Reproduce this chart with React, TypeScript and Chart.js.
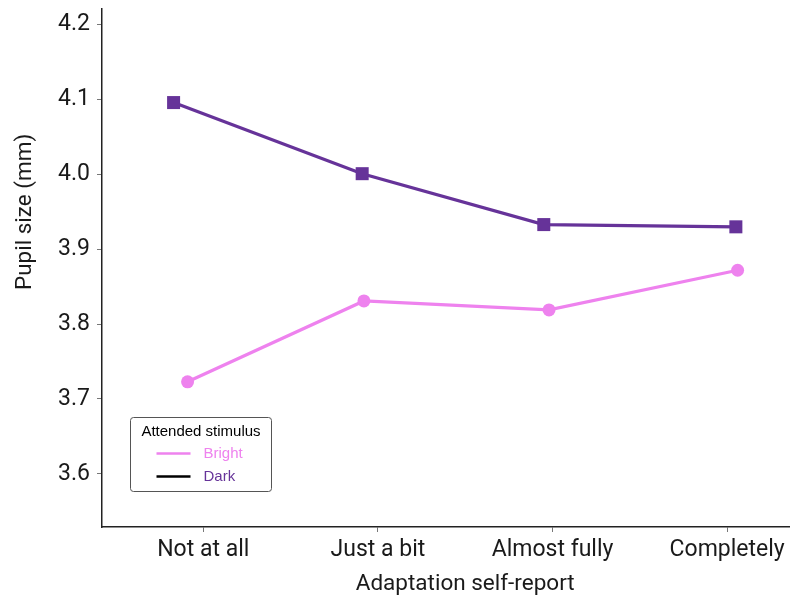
import React, { useEffect, useRef } from 'react';
import { Chart, registerables } from 'chart.js';

Chart.register(...registerables);

// ---- data ----
const categories = ['Not at all', 'Just a bit', 'Almost fully', 'Completely'];
const seriesNames = ['Bright', 'Dark'];
const brightValues = [3.723, 3.831, 3.819, 3.872];
const darkValues = [4.096, 4.001, 3.933, 3.93];
// dodged horizontal positions (in category units)
const brightX = [-0.09, 0.92, 1.98, 3.06];
const darkX = [-0.17, 0.91, 1.95, 3.05];
const xTickValues = [0, 1, 2, 3];
const yTicks = [3.6, 3.7, 3.8, 3.9, 4.0, 4.1, 4.2];
const legendTitle = 'Attended stimulus';
const xTitle = 'Adaptation self-report';
const yTitle = 'Pupil size (mm)';

const BRIGHT = '#EE82EE';
const DARK = '#663399';
const TEXT = '#1a1a1a';

const overlayPlugin = {
  id: 'overlay',
  afterDraw(chart: any) {
    const { ctx, chartArea, scales } = chart;
    const xs = scales.x;
    ctx.save();
    // axis titles
    ctx.fillStyle = TEXT;
    ctx.font = '22.5px Roboto';
    ctx.textAlign = 'center';
    ctx.textBaseline = 'alphabetic';
    ctx.fillText(xTitle, xs.getPixelForValue(1.5), chart.height - 8);
    ctx.save();
    ctx.translate(31, scales.y.getPixelForValue(3.95));
    ctx.rotate(-Math.PI / 2);
    ctx.fillText(yTitle, 0, 0);
    ctx.restore();

    // legend
    const bx = chartArea.left + 28.5;
    const by = chartArea.bottom - 109.5;
    const bw = 141;
    const bh = 74;
    ctx.beginPath();
    ctx.roundRect(bx, by, bw, bh, 3);
    ctx.fillStyle = '#ffffff';
    ctx.fill();
    ctx.strokeStyle = '#555555';
    ctx.lineWidth = 1;
    ctx.stroke();

    ctx.font = '15px "Liberation Sans", Arial, sans-serif';
    ctx.fillStyle = '#000000';
    ctx.textAlign = 'center';
    ctx.textBaseline = 'middle';
    ctx.fillText(legendTitle, bx + bw / 2, by + 14);

    const lineColors = [BRIGHT, '#000000'];
    const textColors = [BRIGHT, DARK];
    seriesNames.forEach((name, i) => {
      const yy = by + 36 + i * 23;
      ctx.beginPath();
      ctx.moveTo(bx + 26, yy);
      ctx.lineTo(bx + 60, yy);
      ctx.strokeStyle = lineColors[i];
      ctx.lineWidth = 2.5;
      ctx.stroke();
      ctx.fillStyle = textColors[i];
      ctx.textAlign = 'left';
      ctx.fillText(name, bx + 73, yy);
    });
    ctx.restore();
  },
};

export default function App() {
  const ref = useRef<HTMLCanvasElement | null>(null);

  useEffect(() => {
    document.body.style.margin = '0';
    const canvas = ref.current;
    if (!canvas) return;
    const chart = new Chart(canvas, {
      type: 'line',
      data: {
        datasets: [
          {
            label: seriesNames[0],
            data: brightValues.map((v, i) => ({ x: brightX[i], y: v })),
            borderColor: BRIGHT,
            backgroundColor: BRIGHT,
            borderWidth: 3.2,
            pointStyle: 'circle',
            pointRadius: 6.5,
            pointBorderWidth: 0,
            pointBackgroundColor: BRIGHT,
          },
          {
            label: seriesNames[1],
            data: darkValues.map((v, i) => ({ x: darkX[i], y: v })),
            borderColor: DARK,
            backgroundColor: DARK,
            borderWidth: 3.2,
            pointStyle: 'rect',
            pointRadius: 9.2,
            pointBorderWidth: 0,
            pointBackgroundColor: DARK,
          },
        ],
      },
      options: {
        animation: false,
        responsive: false,
        layout: { autoPadding: false, padding: { top: 9, left: 0, right: 0, bottom: 0 } },
        plugins: {
          legend: { display: false },
          tooltip: { enabled: false },
        },
        scales: {
          x: {
            type: 'linear',
            min: -0.58,
            max: 3.36,
            afterBuildTicks: (scale: any) => {
              scale.ticks = xTickValues.map((v) => ({ value: v }));
            },
            afterFit: (scale: any) => {
              scale.height = 71;
              scale.paddingLeft = 0;
              scale.paddingRight = 0;
            },
            ticks: {
              callback: (v: any) => categories[Math.round(Number(v))] ?? '',
              font: { family: 'Roboto', size: 23 },
              color: TEXT,
              padding: 4,
              maxRotation: 0,
              autoSkip: false,
            },
            grid: {
              drawOnChartArea: false,
              drawTicks: true,
              tickLength: 5,
              color: '#777777',
            },
            border: { display: true, color: '#222222', width: 1.5 },
          },
          y: {
            type: 'linear',
            min: 3.529,
            max: 4.221,
            afterBuildTicks: (scale: any) => {
              scale.ticks = yTicks.map((v) => ({ value: v }));
            },
            afterFit: (scale: any) => {
              scale.width = 102;
              scale.paddingTop = 0;
              scale.paddingBottom = 0;
            },
            ticks: {
              callback: (v: any) => Number(v).toFixed(1),
              font: { family: 'Roboto', size: 23 },
              color: TEXT,
              padding: 7,
            },
            grid: {
              drawOnChartArea: false,
              drawTicks: true,
              tickLength: 5,
              color: '#777777',
            },
            border: { display: true, color: '#222222', width: 1.5 },
          },
        },
      },
      plugins: [overlayPlugin],
    } as any);
    return () => chart.destroy();
  }, []);

  return (
    <div style={{ width: 790, height: 598 }}>
      <canvas ref={ref} width={790} height={598} style={{ display: 'block', width: 790, height: 598 }} />
    </div>
  );
}
